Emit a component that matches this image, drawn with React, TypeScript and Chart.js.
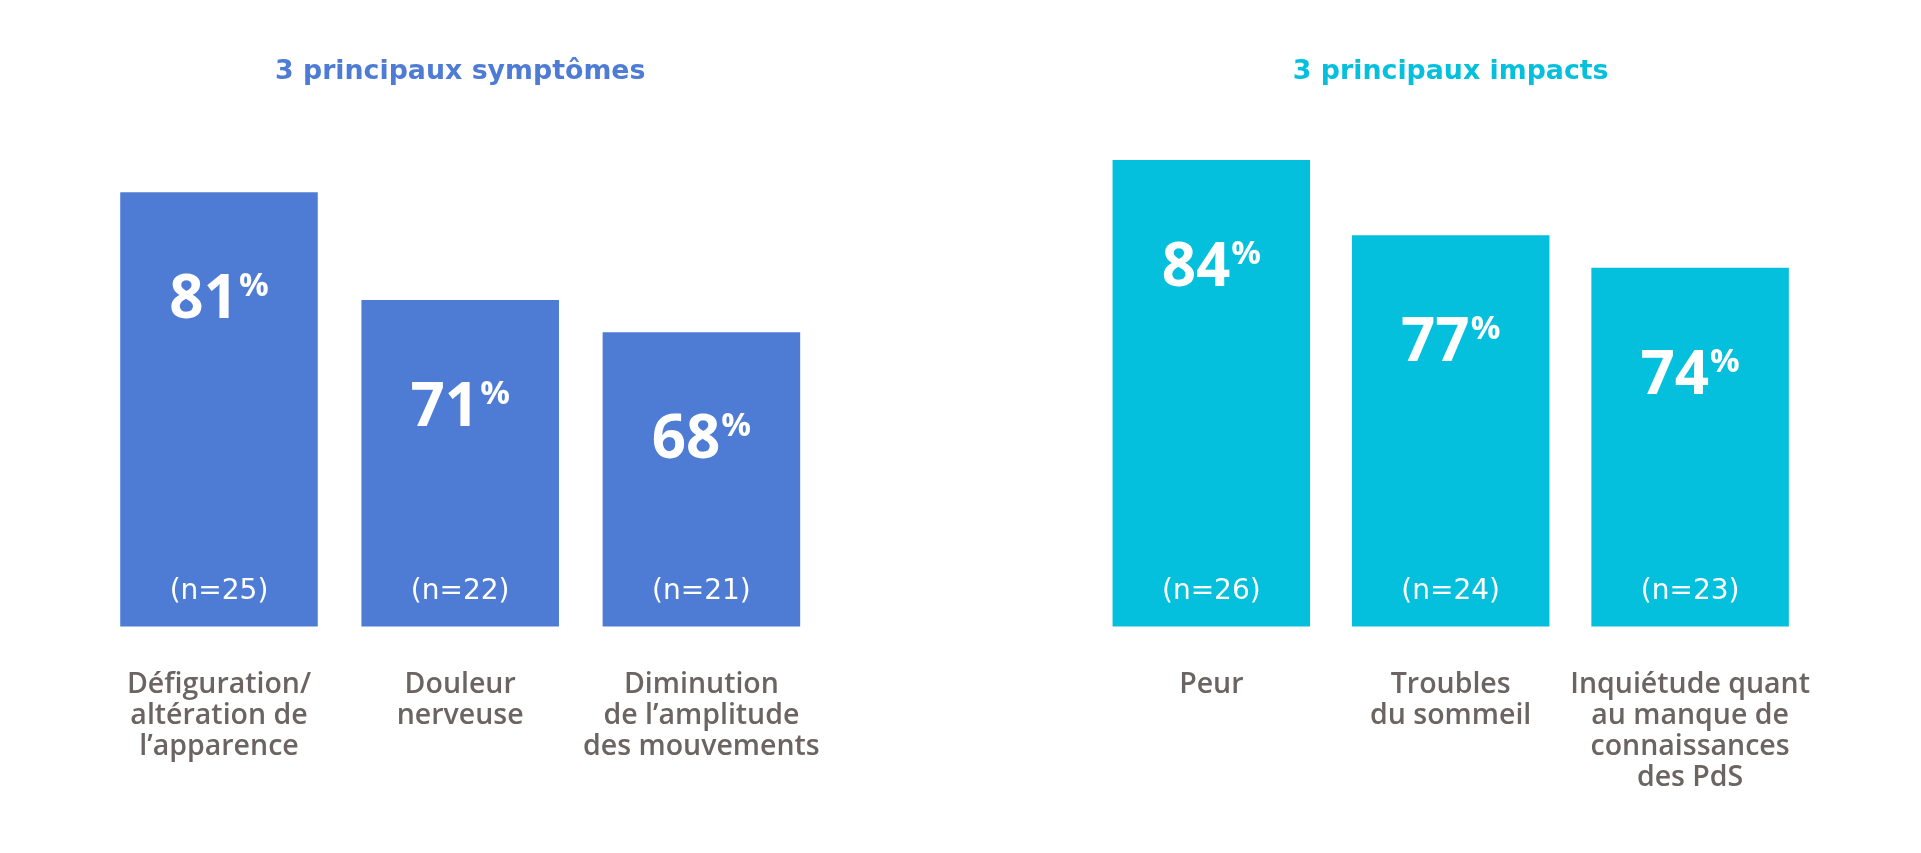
import React, { useEffect, useRef } from 'react';
import { Chart, registerables } from 'chart.js';

Chart.register(...registerables);

// ---- Data ----
const symptomTitle = '3 principaux symptômes';
const symptomLabels = [
  ['Défiguration/', 'altération de', 'l’apparence'],
  ['Douleur', 'nerveuse'],
  ['Diminution', 'de l’amplitude', 'des mouvements'],
];
const symptomValues = [81, 71, 68];
const symptomCounts = [25, 22, 21];

const impactTitle = '3 principaux impacts';
const impactLabels = [
  ['Peur'],
  ['Troubles', 'du sommeil'],
  ['Inquiétude quant', 'au manque de', 'connaissances', 'des PdS'],
];
const impactValues = [84, 77, 74];
const impactCounts = [26, 24, 23];

// ---- Styles ----
const BLUE = '#4e7cd5';
const CYAN = '#05c0dc';
const LABEL_COLOR = '#6b6462';
const PAGE_H = 853;

type PanelProps = {
  title: string;
  labels: string[][];
  values: number[];
  counts: number[];
  color: string;
  left: number;
  width: number;
  pad: { top: number; left: number; right: number; bottom: number };
  barPct: number;
};

function BarPanel({ title, labels, values, counts, color, left, width, pad, barPct }: PanelProps) {
  const ref = useRef<HTMLCanvasElement>(null);

  useEffect(() => {
    const canvas = ref.current;
    if (!canvas) return;

    const decor = {
      id: 'decor',
      afterDatasetsDraw(chart: any) {
        const { ctx, chartArea } = chart;
        const meta = chart.getDatasetMeta(0);
        const data = chart.data.datasets[0].data as number[];
        meta.data.forEach((bar: any, i: number) => {
          const { x, y } = bar.getProps(['x', 'y'], true);
          const numStr = String(data[i]);
          ctx.save();
          ctx.fillStyle = '#ffffff';
          ctx.textAlign = 'left';
          ctx.textBaseline = 'alphabetic';
          ctx.font = 'bold 60px "Open Sans"';
          const wNum = ctx.measureText(numStr).width;
          ctx.font = 'bold 33px "Open Sans"';
          const wPct = ctx.measureText('%').width;
          const gap = 1;
          const start = x - (wNum + gap + wPct) / 2;
          ctx.font = 'bold 60px "Open Sans"';
          ctx.fillText(numStr, start, y + 126);
          ctx.font = 'bold 33px "Open Sans"';
          ctx.fillText('%', start + wNum + gap, y + 104);

          ctx.font = '28px "DejaVu Sans"';
          ctx.textAlign = 'center';
          ctx.textBaseline = 'middle';
          ctx.fillText(`(n=${counts[i]})`, x, chartArea.bottom - 35);
          ctx.restore();
        });
      },
      afterDraw(chart: any) {
        const { ctx, chartArea } = chart;
        ctx.save();
        ctx.fillStyle = color;
        ctx.textAlign = 'center';
        ctx.textBaseline = 'alphabetic';
        ctx.font = 'bold 26.8px "DejaVu Sans"';
        ctx.fillText(title, (chartArea.left + chartArea.right) / 2, 79);
        ctx.restore();
      },
    };

    const chart = new Chart(canvas, {
      type: 'bar',
      data: {
        labels,
        datasets: [
          {
            data: values,
            backgroundColor: color,
            borderWidth: 0,
            barPercentage: barPct,
            categoryPercentage: 1,
          },
        ],
      },
      options: {
        responsive: false,
        animation: false,
        devicePixelRatio: 1,
        layout: { padding: pad },
        plugins: {
          legend: { display: false },
          tooltip: { enabled: false },
          title: { display: false },
        },
        scales: {
          x: {
            type: 'category',
            grid: { display: false, drawTicks: false },
            border: { display: false },
            ticks: {
              color: LABEL_COLOR,
              font: { family: '"Open Sans"', size: 28.5, weight: '600', lineHeight: '31px' },
              padding: 43,
              maxRotation: 0,
              minRotation: 0,
              autoSkip: false,
            },
            afterFit: (s: any) => {
              s.height = 226.5;
            },
          },
          y: {
            type: 'linear',
            display: false,
            min: 40.68,
            max: 90,
          },
        },
      } as any,
      plugins: [decor],
    });

    return () => chart.destroy();
  }, [title, labels, values, counts, color, width, pad, barPct]);

  return (
    <canvas
      ref={ref}
      width={width}
      height={PAGE_H}
      style={{ position: 'absolute', left, top: 0, width, height: PAGE_H, display: 'block' }}
    />
  );
}

const leftPad = { top: 95.3, left: 98.4, right: 138, bottom: 0 };
const rightPad = { top: 95.3, left: 131.6, right: 111.2, bottom: 0 };

export default function App() {
  return (
    <div
      style={{
        position: 'fixed',
        left: 0,
        top: 0,
        width: 1921,
        height: PAGE_H,
        background: '#ffffff',
        overflow: 'hidden',
      }}
    >
      <BarPanel
        title={symptomTitle}
        labels={symptomLabels}
        values={symptomValues}
        counts={symptomCounts}
        color={BLUE}
        left={0}
        width={960}
        pad={leftPad}
        barPct={0.819}
      />
      <BarPanel
        title={impactTitle}
        labels={impactLabels}
        values={impactValues}
        counts={impactCounts}
        color={CYAN}
        left={960}
        width={961}
        pad={rightPad}
        barPct={0.825}
      />
    </div>
  );
}
